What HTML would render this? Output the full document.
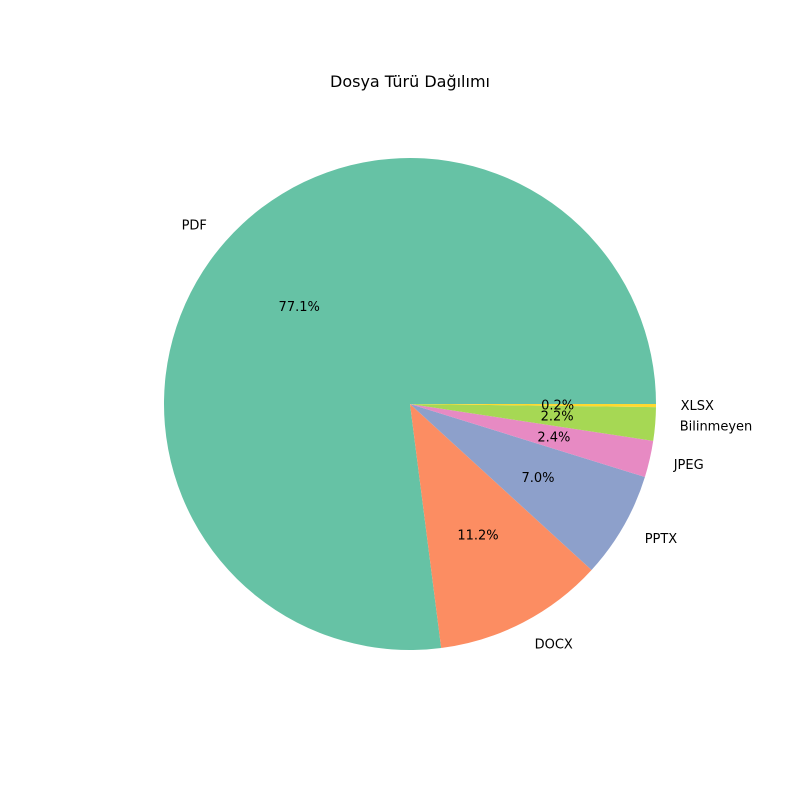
<!DOCTYPE html>
<html><head><meta charset="utf-8"><style>
html,body{margin:0;padding:0;background:#fff;}
svg{display:block;font-family:"DejaVu Sans","Liberation Sans",sans-serif;}
</style></head><body>
<svg id="chart" width="800" height="800" viewBox="0 0 800 800">
<text x="410" y="87" text-anchor="middle" font-size="16">Dosya Türü Dağılımı</text>
</svg>
<script>
const categories = ["PDF","DOCX","PPTX","JPEG","Bilinmeyen","XLSX"];
const values = [77.1,11.2,7.0,2.4,2.2,0.2];
const pctLabels = ["77.1%","11.2%","7.0%","2.4%","2.2%","0.2%"];
const colors = ["#66c2a5","#fc8d62","#8da0cb","#e78ac3","#a6d854","#ffd92f"];
const svg = document.getElementById('chart');
const NS = "http://www.w3.org/2000/svg";
const cx = 410, cy = 404, R = 246;
const total = values.reduce((a,b)=>a+b,0);
function pt(a, r){ return [cx + r*Math.cos(a), cy - r*Math.sin(a)]; }
let start = 0;
values.forEach((v,i)=>{
  const sweep = v/total*2*Math.PI;
  const end = start + sweep;
  const [x1,y1] = pt(start,R), [x2,y2] = pt(end,R);
  const large = sweep > Math.PI ? 1 : 0;
  const p = document.createElementNS(NS,'path');
  p.setAttribute('d',`M${cx},${cy} L${x1},${y1} A${R},${R} 0 ${large} 0 ${x2},${y2} Z`);
  p.setAttribute('fill',colors[i]);
  
  
  svg.appendChild(p);
  const mid = (start+end)/2;
  const [lx,ly] = pt(mid,R*1.1);
  const t = document.createElementNS(NS,'text');
  t.setAttribute('x',lx); t.setAttribute('y',ly+4.5);
  t.setAttribute('font-size','13');
  t.setAttribute('text-anchor', Math.cos(mid) >= 0 ? 'start' : 'end');
  t.textContent = categories[i];
  
  
  svg.appendChild(t);
  const [px,py] = pt(mid,R*0.6);
  const q = document.createElementNS(NS,'text');
  q.setAttribute('x',px); q.setAttribute('y',py+4.5);
  q.setAttribute('font-size','13');
  q.setAttribute('text-anchor','middle');
  q.textContent = pctLabels[i];
  
  
  svg.appendChild(q);
  start = end;
});
</script>
</body></html>
